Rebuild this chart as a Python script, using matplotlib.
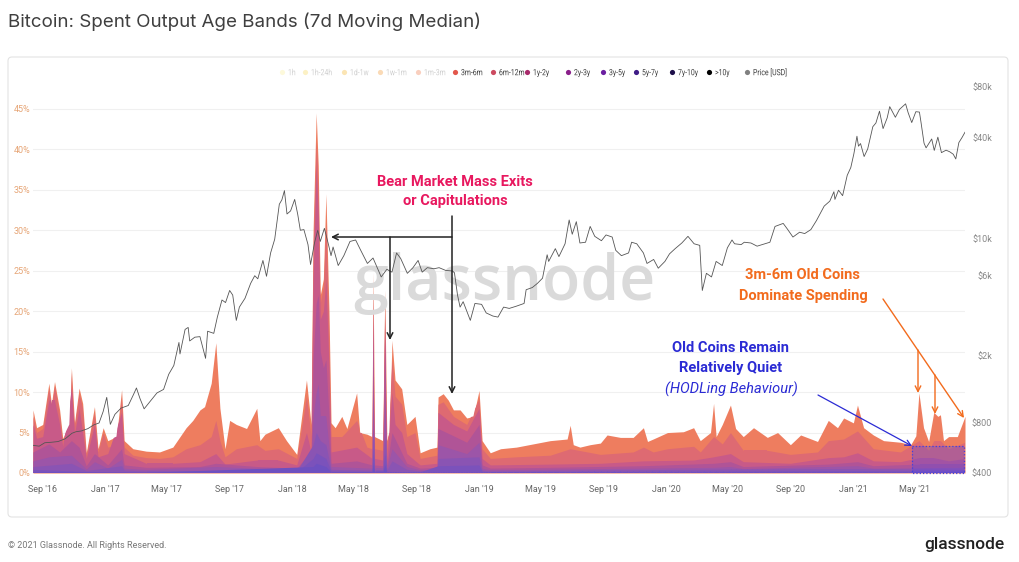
import matplotlib
matplotlib.use("Agg")
import matplotlib.pyplot as plt
import matplotlib.dates as mdates
from matplotlib.patches import FancyBboxPatch, Rectangle, PathPatch
from matplotlib.textpath import TextPath
from matplotlib.font_manager import FontProperties
from matplotlib.transforms import Affine2D
from matplotlib.ticker import NullLocator
import pandas as pd

# ---- legend ----
bands = ["1h", "1h-24h", "1d-1w", "1w-1m", "1m-3m", "3m-6m", "6m-12m", "1y-2y",
         "2y-3y", "3y-5y", "5y-7y", "7y-10y", ">10y", "Price [USD]"]
band_dots = ["#fbef9a", "#f8d95a", "#f4b52a", "#f2952e", "#ef7647", "#e2574c", "#cc4a60",
             "#a82a6a", "#8a1f8a", "#6b1fa0", "#3f1c86", "#1d0f4a", "#000000", "#808080"]
band_hidden = [True, True, True, True, True] + [False] * 9

# ---- upper edge of each stacked band, % of spent outputs ----
total_dates = ["2016-08-13", "2016-08-20", "2016-09-01", "2016-09-13", "2016-09-18", "2016-09-24",
               "2016-10-04", "2016-10-10", "2016-10-23", "2016-10-27", "2016-11-02", "2016-11-11",
               "2016-11-18", "2016-11-25", "2016-12-11", "2016-12-18", "2016-12-28", "2017-01-06",
               "2017-01-23", "2017-02-02", "2017-02-07", "2017-02-24", "2017-03-22", "2017-04-17",
               "2017-05-13", "2017-06-08", "2017-06-21", "2017-07-05", "2017-07-14", "2017-07-27",
               "2017-08-05", "2017-08-13", "2017-08-23", "2017-09-01", "2017-09-14", "2017-10-04",
               "2017-10-24", "2017-10-30", "2017-11-09", "2017-12-05", "2017-12-21", "2018-01-10",
               "2018-01-29", "2018-02-07", "2018-02-11", "2018-02-17", "2018-02-21", "2018-02-25",
               "2018-03-03", "2018-03-08", "2018-03-14", "2018-03-18", "2018-03-26", "2018-04-08",
               "2018-04-18", "2018-05-07", "2018-05-13", "2018-05-27", "2018-06-06", "2018-06-08",
               "2018-06-11", "2018-06-27", "2018-07-01", "2018-07-05", "2018-07-10", "2018-07-15",
               "2018-07-21", "2018-07-27", "2018-08-03", "2018-08-13", "2018-08-29", "2018-09-08",
               "2018-09-27", "2018-10-11", "2018-10-13", "2018-10-23", "2018-11-02", "2018-11-12",
               "2018-11-25", "2018-12-08", "2018-12-21", "2019-01-01", "2019-01-07", "2019-01-23",
               "2019-02-12", "2019-03-15", "2019-04-17", "2019-05-20", "2019-06-22", "2019-06-28",
               "2019-07-04", "2019-07-17", "2019-08-06", "2019-08-26", "2019-09-08", "2019-10-04",
               "2019-10-29", "2019-11-18", "2019-11-26", "2019-12-07", "2020-01-04", "2020-02-04",
               "2020-02-24", "2020-03-08", "2020-03-28", "2020-04-03", "2020-04-08", "2020-04-20",
               "2020-05-06", "2020-05-16", "2020-05-31", "2020-06-20", "2020-07-17", "2020-08-06",
               "2020-08-31", "2020-09-20", "2020-10-23", "2020-11-13", "2020-12-01", "2020-12-13",
               "2021-01-01", "2021-01-09", "2021-01-21", "2021-02-09", "2021-03-01", "2021-04-03",
               "2021-04-23", "2021-05-03", "2021-05-09", "2021-05-18", "2021-05-28", "2021-06-07",
               "2021-06-15", "2021-06-20", "2021-06-26", "2021-07-06", "2021-07-23", "2021-08-07"]
total_pct = [7.8, 5.6, 6.0, 11.1, 8.5, 11.3,
             7.8, 4.3, 6.0, 13.0, 6.2, 10.5,
             8.6, 2.5, 8.2, 3.0, 5.6, 4.0,
             4.5, 10.3, 4.0, 3.0, 2.7, 2.6,
             3.2, 5.6, 6.5, 7.8, 8.2, 11.1,
             16.1, 8.0, 3.0, 6.5, 6.0, 5.5,
             8.0, 4.0, 4.8, 5.6, 4.0, 2.3,
             11.5, 6.0, 30.0, 44.5, 38.0, 22.0,
             24.0, 34.5, 20.0, 6.2, 5.6, 7.0,
             5.5, 9.9, 5.0, 4.8, 4.5, 24.8,
             4.5, 4.0, 22.6, 4.0, 5.0, 16.4,
             11.5, 11.0, 10.4, 6.0, 7.0, 2.5,
             3.0, 3.2, 9.4, 9.8, 9.0, 7.8,
             7.8, 6.8, 7.0, 10.2, 4.0, 2.5,
             3.0, 3.2, 3.6, 4.0, 4.2, 5.9,
             3.5, 3.2, 3.5, 3.7, 4.7, 4.4,
             4.4, 5.6, 3.9, 4.2, 5.0, 5.1,
             5.6, 4.0, 5.0, 8.6, 4.5, 6.0,
             8.4, 5.5, 4.5, 5.6, 4.4, 5.0,
             3.5, 4.7, 3.9, 6.5, 5.6, 6.8,
             6.2, 8.4, 5.6, 4.7, 4.0, 3.8,
             3.5, 4.6, 9.9, 5.6, 3.9, 7.5,
             7.0, 7.2, 4.0, 4.5, 4.5, 7.0]

top_6m12m_dates = ["2016-08-13", "2016-08-20", "2016-09-01", "2016-09-13", "2016-09-18", "2016-09-24",
                   "2016-10-04", "2016-10-10", "2016-10-23", "2016-10-27", "2016-11-02", "2016-11-11",
                   "2016-11-18", "2016-11-25", "2016-12-11", "2016-12-18", "2016-12-28", "2017-01-06",
                   "2017-01-23", "2017-02-02", "2017-02-07", "2017-02-24", "2017-03-22", "2017-04-17",
                   "2017-05-13", "2017-06-08", "2017-07-05", "2017-07-27", "2017-08-05", "2017-08-13",
                   "2017-08-23", "2017-09-14", "2017-10-24", "2017-11-09", "2017-12-05", "2018-01-10",
                   "2018-01-29", "2018-02-07", "2018-02-11", "2018-02-17", "2018-02-21", "2018-02-25",
                   "2018-03-03", "2018-03-08", "2018-03-14", "2018-03-18", "2018-04-08", "2018-05-07",
                   "2018-05-27", "2018-06-06", "2018-06-08", "2018-06-11", "2018-06-27", "2018-07-01",
                   "2018-07-05", "2018-07-15", "2018-07-21", "2018-08-03", "2018-08-13", "2018-08-29",
                   "2018-09-08", "2018-10-11", "2018-10-13", "2018-10-23", "2018-11-12", "2018-12-08",
                   "2019-01-01", "2019-01-07", "2019-01-23", "2019-03-15", "2019-05-20", "2019-06-28",
                   "2019-08-26", "2019-10-29", "2019-11-18", "2019-12-07", "2020-01-04", "2020-02-24",
                   "2020-03-08", "2020-04-03", "2020-04-20", "2020-05-06", "2020-05-31", "2020-07-17",
                   "2020-08-31", "2020-10-23", "2020-11-13", "2020-12-13", "2021-01-09", "2021-02-09",
                   "2021-04-03", "2021-05-09", "2021-05-28", "2021-06-07", "2021-06-20", "2021-07-06",
                   "2021-08-07"]
top_6m12m = [7.0, 5.0, 5.5, 10.5, 8.0, 10.8,
             7.2, 4.0, 5.5, 12.5, 5.8, 9.8,
             8.0, 2.2, 7.5, 2.6, 5.0, 3.2,
             3.5, 9.5, 3.2, 2.2, 1.9, 1.8,
             2.0, 3.0, 3.5, 4.5, 6.5, 4.0,
             2.0, 3.0, 3.5, 2.8, 3.0, 1.8,
             9.5, 4.5, 28.0, 41.0, 36.0, 21.0,
             23.0, 31.0, 18.0, 4.5, 4.5, 6.5,
             3.2, 3.0, 24.0, 3.0, 2.8, 22.0,
             2.8, 14.0, 9.5, 8.5, 4.5, 5.0,
             1.8, 2.2, 8.5, 8.8, 7.0, 6.0,
             9.2, 3.0, 1.8, 2.0, 2.2, 3.0,
             2.3, 2.6, 3.2, 2.6, 3.0, 3.3,
             2.6, 4.5, 3.6, 5.0, 2.8, 2.8,
             2.3, 2.6, 4.0, 4.2, 5.2, 3.0,
             2.6, 4.0, 2.8, 4.0, 4.0, 3.0,
             3.8]

top_1y2y_dates = ["2016-08-13", "2016-08-20", "2016-09-01", "2016-09-13", "2016-09-24", "2016-10-04",
                  "2016-10-10", "2016-10-27", "2016-11-02", "2016-11-11", "2016-11-25", "2016-12-11",
                  "2016-12-18", "2017-01-06", "2017-02-02", "2017-02-07", "2017-03-22", "2017-05-13",
                  "2017-07-05", "2017-08-05", "2017-08-23", "2017-10-24", "2017-12-05", "2018-01-10",
                  "2018-01-29", "2018-02-07", "2018-02-11", "2018-02-17", "2018-02-21", "2018-02-25",
                  "2018-03-03", "2018-03-08", "2018-03-14", "2018-03-18", "2018-05-07", "2018-06-06",
                  "2018-06-08", "2018-06-11", "2018-06-27", "2018-07-01", "2018-07-05", "2018-07-15",
                  "2018-07-21", "2018-08-03", "2018-08-13", "2018-09-08", "2018-10-11", "2018-10-13",
                  "2018-11-12", "2018-12-08", "2019-01-01", "2019-01-07", "2019-01-23", "2019-05-20",
                  "2019-08-26", "2019-11-18", "2020-02-24", "2020-04-03", "2020-05-06", "2020-05-31",
                  "2020-08-31", "2020-11-13", "2020-12-13", "2021-01-09", "2021-02-09", "2021-04-03",
                  "2021-05-09", "2021-06-07", "2021-07-06", "2021-08-07"]
top_1y2y = [6.0, 4.3, 4.5, 9.0, 9.0, 6.0,
            3.3, 10.5, 4.8, 8.0, 1.8, 6.0,
            2.0, 2.4, 7.5, 2.4, 1.2, 1.2,
            1.4, 2.4, 1.1, 1.6, 1.6, 1.0,
            5.0, 2.6, 24.0, 38.0, 32.0, 19.0,
            20.0, 24.0, 13.0, 2.6, 3.2, 1.8,
            23.0, 1.8, 1.6, 21.0, 1.6, 10.0,
            6.0, 5.0, 2.4, 1.0, 1.2, 7.5,
            6.0, 5.2, 8.0, 1.8, 1.0, 1.1,
            1.2, 1.5, 1.6, 2.0, 2.4, 1.4,
            1.2, 1.9, 2.0, 2.5, 1.5, 1.4,
            1.9, 1.9, 1.5, 1.8]

top_2y3y_dates = ["2016-08-13", "2016-09-13", "2016-10-04", "2016-10-27", "2016-11-11", "2016-11-25",
                  "2016-12-11", "2017-01-06", "2017-02-02", "2017-02-07", "2017-03-22", "2017-07-05",
                  "2017-08-05", "2017-10-24", "2018-01-10", "2018-01-29", "2018-02-07", "2018-02-11",
                  "2018-02-17", "2018-02-21", "2018-02-25", "2018-03-03", "2018-03-08", "2018-03-14",
                  "2018-03-18", "2018-05-07", "2018-06-06", "2018-06-08", "2018-06-11", "2018-06-27",
                  "2018-07-01", "2018-07-05", "2018-07-15", "2018-08-03", "2018-08-13", "2018-09-08",
                  "2018-10-11", "2018-10-13", "2018-11-12", "2018-12-08", "2019-01-01", "2019-01-07",
                  "2019-01-23", "2019-05-20", "2019-11-18", "2020-04-03", "2020-05-06", "2020-05-31",
                  "2020-11-13", "2021-01-09", "2021-02-09", "2021-05-09", "2021-06-07", "2021-08-07"]
top_2y3y = [2.6, 3.6, 2.6, 4.0, 3.2, 0.9,
            2.4, 1.0, 3.0, 1.0, 0.7, 0.8,
            1.2, 0.8, 0.6, 2.0, 1.2, 14.0,
            21.0, 22.0, 15.0, 13.0, 14.0, 7.0,
            1.2, 1.5, 1.0, 19.0, 1.0, 0.9,
            17.0, 0.9, 5.0, 2.5, 1.2, 0.6,
            0.7, 5.5, 4.6, 3.8, 6.0, 1.0,
            0.6, 0.7, 0.9, 1.2, 1.4, 0.8,
            1.1, 1.4, 0.9, 1.1, 1.1, 1.1]

top_3y5y_dates = ["2016-08-13", "2016-09-13", "2016-10-27", "2016-11-25", "2016-12-11", "2017-01-06",
                  "2017-02-02", "2017-02-07", "2017-03-22", "2017-08-05", "2018-01-10", "2018-01-29",
                  "2018-02-07", "2018-02-11", "2018-02-17", "2018-02-21", "2018-02-25", "2018-03-08",
                  "2018-03-18", "2018-06-06", "2018-06-08", "2018-06-11", "2018-06-27", "2018-07-01",
                  "2018-07-05", "2018-07-15", "2018-08-13", "2018-09-08", "2018-10-11", "2018-10-13",
                  "2018-12-08", "2019-01-01", "2019-01-07", "2019-01-23", "2020-04-03", "2020-05-06",
                  "2020-05-31", "2021-01-09", "2021-02-09", "2021-08-07"]
top_3y5y = [1.5, 2.0, 2.2, 0.5, 1.4, 0.6,
            1.7, 0.6, 0.45, 0.8, 0.4, 1.2,
            0.8, 7.0, 10.0, 11.0, 7.0, 7.0,
            0.8, 0.6, 11.0, 0.6, 0.6, 9.0,
            0.6, 3.0, 0.8, 0.4, 0.45, 3.5,
            2.4, 3.8, 0.6, 0.4, 0.7, 0.8,
            0.55, 0.9, 0.6, 0.7]

top_5y7y_dates = ["2016-08-13", "2016-10-27", "2016-11-25", "2017-02-02", "2017-02-07", "2017-03-22",
                  "2018-01-10", "2018-02-11", "2018-02-17", "2018-02-25", "2018-03-08", "2018-03-18",
                  "2018-06-06", "2018-06-08", "2018-06-11", "2018-06-27", "2018-07-01", "2018-07-05",
                  "2018-07-15", "2018-08-13", "2018-09-08", "2018-10-11", "2018-10-13", "2019-01-01",
                  "2019-01-07", "2019-01-23", "2020-05-06", "2021-01-09", "2021-08-07"]
top_5y7y = [0.8, 1.2, 0.3, 0.9, 0.35, 0.25,
            0.25, 3.5, 5.0, 4.0, 3.5, 0.45,
            0.35, 5.5, 0.35, 0.35, 4.5, 0.35,
            1.5, 0.45, 0.25, 0.3, 1.8, 2.0,
            0.35, 0.25, 0.5, 0.55, 0.45]

top_7y10y_dates = ["2016-08-13", "2016-11-25", "2017-03-22", "2018-01-10", "2018-02-11", "2018-02-17",
                   "2018-03-08", "2018-03-18", "2018-06-06", "2018-06-08", "2018-06-11", "2018-06-27",
                   "2018-07-01", "2018-07-05", "2018-09-08", "2018-10-13", "2019-01-01", "2019-01-07",
                   "2019-01-23", "2021-01-09", "2021-08-07"]
top_7y10y = [0.45, 0.18, 0.15, 0.15, 1.8, 2.5,
             1.8, 0.25, 0.2, 2.8, 0.2, 0.2,
             2.4, 0.2, 0.15, 0.9, 1.0, 0.2,
             0.15, 0.3, 0.25]

top_10y_dates = ["2016-08-13", "2017-03-22", "2018-02-11", "2018-02-17", "2018-03-08", "2018-03-18",
                 "2018-06-06", "2018-06-08", "2018-06-11", "2018-06-27", "2018-07-01", "2018-07-05",
                 "2019-01-23", "2021-08-07"]
top_10y = [0.2, 0.08, 0.8, 1.2, 0.8, 0.1,
           0.1, 1.2, 0.1, 0.1, 1.0, 0.1,
           0.08, 0.12]

# ---- BTC price (USD) ----
price_dates = ["2016-08-13", "2016-08-25", "2016-09-05", "2016-09-18", "2016-10-01", "2016-10-15",
               "2016-10-28", "2016-11-05", "2016-11-15", "2016-11-28", "2016-12-10", "2016-12-20",
               "2016-12-28", "2017-01-04", "2017-01-11", "2017-01-20", "2017-02-01", "2017-02-15",
               "2017-02-25", "2017-03-03", "2017-03-10", "2017-03-18", "2017-03-31", "2017-04-12",
               "2017-04-25", "2017-05-05", "2017-05-15", "2017-05-25", "2017-05-27", "2017-06-06",
               "2017-06-12", "2017-06-15", "2017-06-25", "2017-07-05", "2017-07-16", "2017-07-20",
               "2017-08-01", "2017-08-08", "2017-08-17", "2017-08-24", "2017-09-01", "2017-09-07",
               "2017-09-14", "2017-09-20", "2017-10-01", "2017-10-12", "2017-10-20", "2017-10-26",
               "2017-11-05", "2017-11-12", "2017-11-20", "2017-11-28", "2017-12-07", "2017-12-12",
               "2017-12-17", "2017-12-22", "2017-12-29", "2018-01-06", "2018-01-12", "2018-01-17",
               "2018-01-24", "2018-02-01", "2018-02-06", "2018-02-14", "2018-02-20", "2018-02-25",
               "2018-03-05", "2018-03-13", "2018-03-18", "2018-03-22", "2018-04-01", "2018-04-12",
               "2018-04-24", "2018-05-05", "2018-05-15", "2018-05-28", "2018-06-08", "2018-06-24",
               "2018-07-05", "2018-07-15", "2018-07-24", "2018-08-01", "2018-08-14", "2018-08-25",
               "2018-09-04", "2018-09-12", "2018-09-22", "2018-10-05", "2018-10-15", "2018-10-28",
               "2018-11-10", "2018-11-14", "2018-11-20", "2018-11-25", "2018-12-01", "2018-12-15",
               "2018-12-24", "2019-01-06", "2019-01-15", "2019-01-28", "2019-02-07", "2019-02-18",
               "2019-03-01", "2019-03-15", "2019-03-30", "2019-04-03", "2019-04-15", "2019-04-25",
               "2019-05-05", "2019-05-14", "2019-05-17", "2019-05-30", "2019-06-06", "2019-06-18",
               "2019-06-26", "2019-07-02", "2019-07-10", "2019-07-17", "2019-07-28", "2019-08-06",
               "2019-08-15", "2019-08-28", "2019-09-06", "2019-09-18", "2019-09-25", "2019-10-06",
               "2019-10-20", "2019-10-26", "2019-11-05", "2019-11-18", "2019-11-25", "2019-12-08",
               "2019-12-17", "2019-12-30", "2020-01-08", "2020-01-19", "2020-02-01", "2020-02-13",
               "2020-02-25", "2020-03-07", "2020-03-12", "2020-03-20", "2020-03-30", "2020-04-08",
               "2020-04-20", "2020-04-30", "2020-05-09", "2020-05-14", "2020-05-27", "2020-06-02",
               "2020-06-15", "2020-06-27", "2020-07-10", "2020-07-22", "2020-08-01", "2020-08-17",
               "2020-08-25", "2020-09-05", "2020-09-18", "2020-09-28", "2020-10-10", "2020-10-21",
               "2020-11-05", "2020-11-16", "2020-11-24", "2020-11-26", "2020-12-03", "2020-12-11",
               "2020-12-20", "2020-12-27", "2021-01-02", "2021-01-08", "2021-01-11", "2021-01-15",
               "2021-01-22", "2021-01-29", "2021-02-08", "2021-02-14", "2021-02-21", "2021-02-28",
               "2021-03-08", "2021-03-13", "2021-03-24", "2021-04-01", "2021-04-13", "2021-04-18",
               "2021-04-25", "2021-05-03", "2021-05-10", "2021-05-13", "2021-05-19", "2021-05-23",
               "2021-06-03", "2021-06-08", "2021-06-15", "2021-06-22", "2021-07-01", "2021-07-08",
               "2021-07-15", "2021-07-20", "2021-07-26", "2021-08-01", "2021-08-07"]
price_usd = [585, 578, 606, 610, 616, 640,
             690, 705, 712, 735, 775, 795,
             930, 1130, 780, 895, 975, 1010,
             1170, 1285, 1110, 965, 1080, 1200,
             1260, 1550, 1750, 2400, 2050, 2870,
             2950, 2450, 2580, 2600, 1930, 2800,
             2720, 3400, 4300, 4150, 4900, 4600,
             3250, 3900, 4400, 5400, 6000, 5750,
             7400, 5950, 8200, 9900, 16000, 17000,
             19300, 14000, 14600, 17100, 13900, 11200,
             11300, 9200, 7000, 9500, 11200, 9600,
             11500, 9200, 7900, 8900, 6900, 7900,
             9600, 9800, 8500, 7100, 7650, 5900,
             6550, 6300, 8200, 7600, 6200, 6700,
             7400, 6300, 6700, 6600, 6700, 6450,
             6400, 6250, 4600, 3900, 4200, 3250,
             4100, 4050, 3600, 3450, 3400, 3900,
             3830, 3950, 4100, 4950, 5100, 5400,
             5800, 8000, 7300, 8700, 7800, 9300,
             12900, 10600, 12600, 9400, 9500, 11800,
             10300, 9700, 10500, 10200, 8500, 7900,
             8200, 9500, 9300, 8200, 7100, 7500,
             6650, 7300, 8100, 8700, 9400, 10300,
             9300, 9100, 4900, 6200, 5900, 7300,
             6900, 8800, 9800, 9300, 9200, 9500,
             9400, 9000, 9250, 9500, 11800, 12300,
             11400, 10200, 10900, 10700, 11300, 12800,
             15600, 16700, 19000, 17100, 19400, 18000,
             23800, 26500, 32000, 40700, 35500, 36800,
             30800, 34200, 46400, 48800, 57400, 45200,
             52300, 61100, 52800, 58800, 63500, 56200,
             49100, 57000, 56700, 49500, 37000, 34700,
             39200, 33500, 40200, 32500, 33600, 32900,
             31800, 29800, 37300, 39900, 43000]

pct_ticks = [0, 5, 10, 15, 20, 25, 30, 35, 40, 45]
usd_ticks = [400, 800, 2000, 6000, 10000, 40000, 80000]
usd_labels = ["$400", "$800", "$2k", "$6k", "$10k", "$40k", "$80k"]

layers = [  # outermost first
    (total_dates, total_pct, "#ee7d5f"),
    (top_6m12m_dates, top_6m12m, "#de6a72"),
    (top_1y2y_dates, top_1y2y, "#c85a88"),
    (top_2y3y_dates, top_2y3y, "#b05497"),
    (top_3y5y_dates, top_3y5y, "#9c55a8"),
    (top_5y7y_dates, top_5y7y, "#8a54b3"),
    (top_7y10y_dates, top_7y10y, "#7b52bb"),
    (top_10y_dates, top_10y, "#6e50c0"),
]

W, H = 1020, 562
fig = plt.figure(figsize=(W / 100, H / 100), dpi=100)
UI = ["Roboto", "DejaVu Sans"]

# main axes: plot area spans px x 33..965, y 87..473
ax = fig.add_axes([33 / W, 1 - 473 / H, 932 / W, 386 / H])
ax.set_xlim(pd.Timestamp("2016-08-13"), pd.Timestamp("2021-08-07"))
ax.set_ylim(0, 386 / 8.09)

clip = None
for d, v, c in layers:
    coll = ax.fill_between(pd.to_datetime(d), 0, v, color=c, lw=0, zorder=2)
    if clip is None:
        clip = coll.get_paths()[0]
    else:
        coll.set_clip_path(clip, ax.transData)

ax.set_yticks(pct_ticks)
ax.set_yticklabels([f"{t}%" for t in pct_ticks], family=UI)
ax.grid(axis="y", color="#f0f0f0", lw=0.8)
ax.set_axisbelow(True)
ax.tick_params(axis="y", colors="#e6a576", labelsize=6.5, length=0, pad=2)
ax.xaxis.set_major_locator(mdates.MonthLocator(bymonth=[1, 5, 9]))
ax.xaxis.set_major_formatter(mdates.DateFormatter("%b '%y"))
ax.tick_params(axis="x", colors="#666666", labelsize=6.5, length=0, pad=9)
for lbl in ax.get_xticklabels():
    lbl.set_family(UI)
for sp in ax.spines.values():
    sp.set_visible(False)

ax.text(0.506, 0.49, "glassnode", transform=ax.transAxes, ha="center", va="center",
        fontsize=45, color="#dadada", weight="semibold",
        family=["Open Sans", "DejaVu Sans"], zorder=3)

# price on log axis
ax2 = ax.twinx()
ax2.set_yscale("log")
ax2.set_ylim(400, 80000)
ax2.plot(pd.to_datetime(price_dates), price_usd, color="#555555", lw=0.6, zorder=4)
ax2.set_yticks(usd_ticks)
ax2.set_yticklabels(usd_labels, family=UI)
ax2.yaxis.set_minor_locator(NullLocator())
ax2.tick_params(axis="y", colors="#888888", labelsize=6.5, length=0, pad=19.5)
for lbl in ax2.get_yticklabels():
    lbl.set_horizontalalignment("right")
for sp in ax2.spines.values():
    sp.set_visible(False)

# overlay in pixel coordinates for annotations / legend / frame
ov = fig.add_axes([0, 0, 1, 1])
ov.set_xlim(0, W)
ov.set_ylim(H, 0)
ov.axis("off")

ov.add_patch(FancyBboxPatch((8, 57), 1000, 460, boxstyle="round,pad=0,rounding_size=4",
                            fc="none", ec="#e3e3e3", lw=0.8))
ov.text(8, 22, "Bitcoin: Spent Output Age Bands (7d Moving Median)", fontsize=13.5,
        color="#3f3f3f", va="center", family=["Inter", "DejaVu Sans"])
ov.text(8, 546, "© 2021 Glassnode. All Rights Reserved.", fontsize=6.5, color="#777777",
        va="center", family=UI)
ov.text(1005, 545, "glassnode", fontsize=12.5, color="#222222", va="center", ha="right",
        family=UI, weight="medium")

# legend: condensed labels drawn as squeezed text paths
legend_font = FontProperties(family="Roboto")
dot_x = [282, 305, 344, 380, 418, 455, 493, 527, 568, 603, 636, 672, 709, 747]
for x, name, c, off in zip(dot_x, bands, band_dots, band_hidden):
    ov.scatter([x], [72], s=14, color=c, alpha=0.35 if off else 1, lw=0)
    tp = TextPath((0, 0), name, size=8.6, prop=legend_font)
    tr = Affine2D().scale(0.8, -1).translate(x + 6, 75.2) + ov.transData
    ov.add_patch(PathPatch(tp, transform=tr, lw=0,
                           fc="#cfcfcf" if off else "#3f3f3f"))

# annotations
red, orange, blue = "#e8185f", "#f26b1d", "#2b2bd4"
bold = dict(ha="center", va="center", fontsize=10.5, weight="bold", family=UI)
ov.text(455, 182, "Bear Market Mass Exits", color=red, **bold)
ov.text(455, 201, "or Capitulations", color=red, **bold)
ov.text(803, 275, "3m-6m Old Coins", color=orange, **bold)
ov.text(803, 296, "Dominate Spending", color=orange, **bold)
ov.text(731, 348, "Old Coins Remain", color=blue, **bold)
ov.text(731, 368, "Relatively Quiet", color=blue, **bold)
ov.text(731, 389, "(HODLing Behaviour)", color=blue, ha="center", va="center",
        fontsize=10.5, style="italic", family=UI)


def arrow(x0, y0, x1, y1, c, lw=1.1):
    ov.annotate("", xy=(x1, y1), xytext=(x0, y0),
                arrowprops=dict(arrowstyle="->,head_length=0.4,head_width=0.2",
                                color=c, lw=lw, shrinkA=0, shrinkB=0))


arrow(452, 216, 452, 394, "#222222")
arrow(452, 237, 331, 237, "#222222")
arrow(390, 237, 390, 340, "#222222")
arrow(883, 299, 964, 418, orange, 1.0)
arrow(918, 350, 918, 393, orange, 1.0)
arrow(935, 375, 935, 414, orange, 1.0)
arrow(818, 395, 912, 446, blue, 0.9)
ov.add_patch(Rectangle((912, 446), 52, 27, fc="#4b46e6", alpha=0.3, lw=0))
ov.add_patch(Rectangle((912, 446), 52, 27, fc="none", ec="#4040dd", lw=0.9, ls=":"))

fig.savefig("out.png", dpi=100, facecolor="white")
